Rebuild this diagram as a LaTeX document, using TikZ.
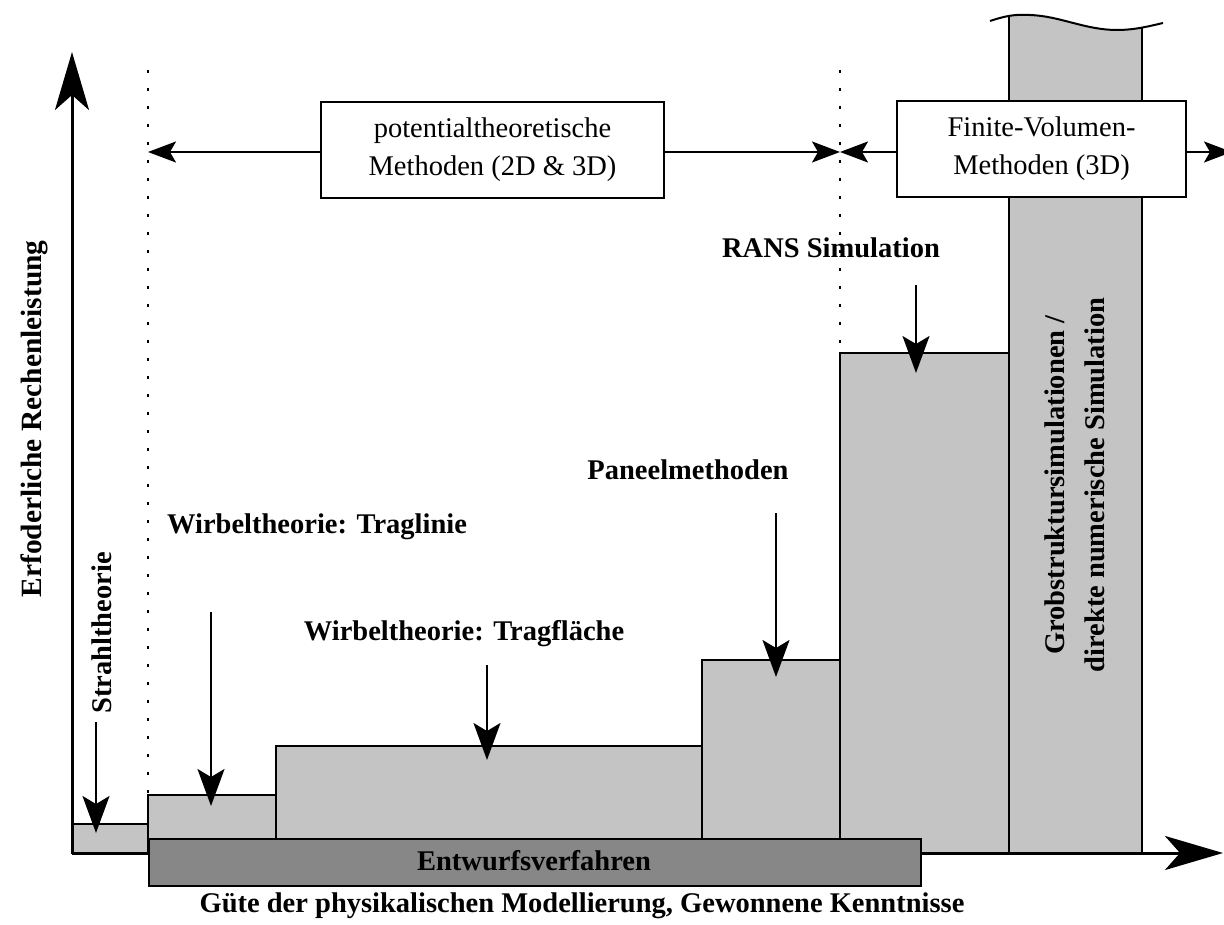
\documentclass[tikz,border=0pt]{standalone}
\usepackage{fontspec}
\setmainfont{Liberation Serif}
\usetikzlibrary{arrows.meta}
\definecolor{barlight}{RGB}{196,196,196}
\definecolor{bardark}{RGB}{135,135,135}
\tikzset{
  bar/.style={draw=black, fill=barlight, line width=2pt},
  darkbar/.style={draw=black, fill=bardark, line width=2pt},
  axisline/.style={line width=3pt, -{Stealth[length=58pt,width=34pt,inset=15pt]}},
  downarrow/.style={line width=2pt, -{Stealth[length=37pt,width=27pt,inset=8pt]}},
  rangearrow/.style={line width=2pt, -{Stealth[length=28pt,width=21pt,inset=6pt]}},
  dotline/.style={line width=2pt, dash pattern=on 3pt off 15pt},
  methodbox/.style={draw=black, fill=white, line width=1.2pt, align=center, inner sep=0pt},
  lbl/.style={font=\bfseries\fontsize{28.5}{40}\selectfont, inner sep=0pt},
}
\begin{document}
\begin{tikzpicture}[x=1pt,y=-1pt,font=\fontsize{28.5}{38}\selectfont]
\useasboundingbox (0,0) rectangle (1224,925);
% dotted separators
\coordinate (d1a) at (148,70);
\coordinate (d1b) at (148,795);
\coordinate (d2a) at (840,70);
\coordinate (d2b) at (840,353);
\draw[dotline] (d1a) -- (d1b);
\draw[dotline] (d2a) -- (d2b);
% tall bar
\begin{scope}
\clip (1009,0) rectangle (1142,853);
\fill[barlight] (990,21) .. controls (1005,16) and (1015,14) .. (1030,15) .. controls (1060,16) and (1085,30) .. (1117,30) .. controls (1135,30) and (1150,26) .. (1163,23) -- (1163,853) -- (990,853) -- cycle;
\end{scope}
\draw[line width=2pt] (1009,853) -- (1009,17);
\draw[line width=2pt] (1142,853) -- (1142,28.5);
\draw[line width=2pt] (990,21) .. controls (1005,16) and (1015,14) .. (1030,15) .. controls (1060,16) and (1085,30) .. (1117,30) .. controls (1135,30) and (1150,26) .. (1163,23);
% bars
\draw[bar] (72,824) rectangle (148,853);
\draw[bar] (148,795) rectangle (276,853);
\draw[bar] (276,746) rectangle (702,853);
\draw[bar] (702,660) rectangle (840,853);
\draw[bar] (840,353) rectangle (1009,853);
% axes
\coordinate (o) at (72,853);
\coordinate (ytip) at (72,52);
\coordinate (xtip) at (1223,853);
\draw[axisline] (o) -- (ytip);
\draw[axisline] (o) -- (xtip);
% design bar
\node[darkbar, minimum width=772pt, minimum height=47pt, inner sep=0pt, anchor=north west] (entw) at (148,838) {};
\node[lbl, anchor=base] (entwl) at (534,870) {Entwurfsverfahren};
% method boxes and range arrows
\node[methodbox, minimum width=343pt, minimum height=96pt] (pot) at (492.5,150) {potentialtheoretische\\Methoden (2D \& 3D)};
\node[methodbox, minimum width=289pt, minimum height=96pt] (fv) at (1041.5,149) {Finite-Volumen-\\Methoden (3D)};
\coordinate (r1l) at (148,152);
\coordinate (r1r) at (840,152);
\coordinate (r2l) at (840,152);
\coordinate (r2r) at (1232,152);
\draw[rangearrow] (pot.west |- r1l) -- (r1l);
\draw[rangearrow] (pot.east |- r1r) -- (r1r);
\draw[rangearrow] (fv.west |- r2l) -- (r2l);
\draw[rangearrow] (fv.east |- r2r) -- (r2r);
% labels
\node[lbl, rotate=90, anchor=base, font=\bfseries\fontsize{29.4}{40}\selectfont] (ylab) at (41,419) {Erfoderliche Rechenleistung};
\node[lbl, anchor=base] (xlab) at (582,912) {Güte der physikalischen Modellierung, Gewonnene Kenntnisse};
\node[lbl, rotate=90, anchor=base] (strahl) at (111,633) {Strahltheorie};
\node[lbl, anchor=base] (tragl) at (317,533) {Wirbeltheorie: Traglinie};
\node[lbl, anchor=base] (tragf) at (464,640) {Wirbeltheorie: Tragfläche};
\node[lbl, anchor=base] (panel) at (688,479) {Paneelmethoden};
\node[lbl, anchor=base] (rans) at (831,258) {RANS Simulation};
\node[lbl, rotate=90, align=center] (les) at (1075,485) {Grobstruktursimulationen /\\direkte numerische Simulation};
% pointer arrows
\coordinate (a1s) at (96,722);   \coordinate (a1e) at (96,833);
\coordinate (a2s) at (211,612);  \coordinate (a2e) at (211,806);
\coordinate (a3s) at (487,665);  \coordinate (a3e) at (487,760);
\coordinate (a4s) at (776,513);  \coordinate (a4e) at (776,677);
\coordinate (a5s) at (916,285);  \coordinate (a5e) at (916,373);
\draw[downarrow] (a1s) -- (a1e);
\draw[downarrow] (a2s) -- (a2e);
\draw[downarrow] (a3s) -- (a3e);
\draw[downarrow] (a4s) -- (a4e);
\draw[downarrow] (a5s) -- (a5e);
\end{tikzpicture}
\end{document}
